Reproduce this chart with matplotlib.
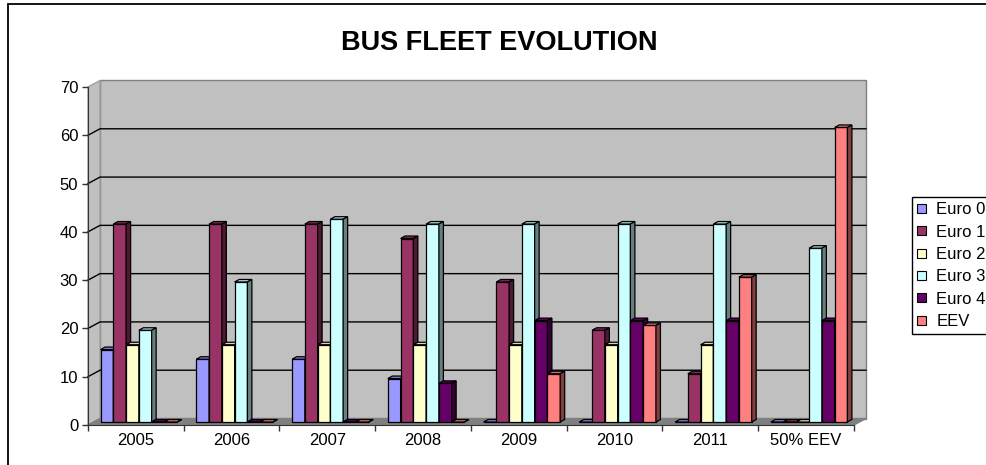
import matplotlib
matplotlib.use("Agg")
import matplotlib.pyplot as plt
from matplotlib.patches import Polygon, Rectangle, Patch

plt.rcParams["font.family"] = ["Liberation Sans", "DejaVu Sans"]

categories = ["2005", "2006", "2007", "2008", "2009", "2010", "2011", "50% EEV"]
series_names = ["Euro 0", "Euro 1", "Euro 2", "Euro 3", "Euro 4", "EEV"]
euro0 = [15, 13, 13, 9, 0, 0, 0, 0]
euro1 = [41, 41, 41, 38, 29, 19, 10, 0]
euro2 = [16, 16, 16, 16, 16, 16, 16, 0]
euro3 = [19, 29, 42, 41, 41, 41, 41, 36]
euro4 = [0, 0, 0, 8, 21, 21, 21, 21]
eev = [0, 0, 0, 0, 10, 20, 30, 61]
series = [euro0, euro1, euro2, euro3, euro4, eev]
colors = ["#9999FF", "#993366", "#FFFFCC", "#CCFFFF", "#660066", "#FF8080"]

W, H = 987, 465
fig = plt.figure(figsize=(W / 100, H / 100), dpi=100)
L, R, B, T = 88, 854, 425, 87
ax = fig.add_axes([L / W, (H - B) / H, (R - L) / W, (B - T) / H])
ncat = len(categories)
ymax = 70
ax.set_xlim(0, ncat)
ax.set_ylim(0, ymax)
ax.set_facecolor("none")
xpp = ncat / (R - L)   # data units per pixel
ypp = ymax / (B - T)

def shade(c, f):
    c = matplotlib.colors.to_rgb(c)
    return tuple(v * f for v in c)

# walls: back wall offset in px
wdx, wdy = 12 * xpp, 6.5 * ypp
back = Rectangle((wdx, wdy), ncat, ymax, facecolor="#C0C0C0", edgecolor="#808080",
                 lw=1, zorder=0.2, clip_on=False)
ax.add_patch(back)
left = Polygon([(0, 0), (wdx, wdy), (wdx, ymax + wdy), (0, ymax)], closed=True,
               facecolor="#C0C0C0", edgecolor="#A0A0A0", lw=1, zorder=0.3, clip_on=False)
ax.add_patch(left)
floor = Polygon([(0, 0), (ncat, 0), (ncat + wdx, wdy), (wdx, wdy)], closed=True,
                facecolor="#808080", edgecolor="#808080", lw=1, zorder=0.4, clip_on=False)
ax.add_patch(floor)
for yv in range(10, ymax, 10):
    ax.plot([0, wdx, ncat + wdx], [yv, yv + wdy, yv + wdy], color="black", lw=1,
            zorder=0.5, clip_on=False)

# bars
w = 0.8 / len(series)
gap = 0.1
fx, fy = 3 * xpp, 3 * ypp
bdx, bdy = 4.5 * xpp, 2.5 * ypp
z = 2
for i in range(ncat):
    for j, (vals, col) in enumerate(zip(series, colors)):
        v = vals[i]
        x0 = i + gap + j * w + fx
        ax.bar(x0, v, width=w, bottom=fy, align="edge", color=col, edgecolor="black",
               lw=0.9, zorder=z, clip_on=False)
        top = Polygon([(x0, v + fy), (x0 + w, v + fy), (x0 + w + bdx, v + fy + bdy),
                       (x0 + bdx, v + fy + bdy)], closed=True, facecolor=shade(col, 0.85),
                      edgecolor="black", lw=0.9, zorder=z, clip_on=False)
        side = Polygon([(x0 + w, fy), (x0 + w + bdx, fy + bdy), (x0 + w + bdx, v + fy + bdy),
                        (x0 + w, v + fy)], closed=True, facecolor=shade(col, 0.5),
                       edgecolor="black", lw=0.9, zorder=z, clip_on=False)
        ax.add_patch(top)
        ax.add_patch(side)
        z += 0.01

# axes styling
for s in ["top", "right"]:
    ax.spines[s].set_visible(False)
ax.spines["left"].set_color("#333333")
ax.spines["bottom"].set_color("#333333")
ax.spines["left"].set_zorder(1)
ax.set_yticks(range(0, ymax + 1, 10))
ax.set_xticks(range(0, ncat + 1))
ax.set_xticklabels([])
ax.set_xticks([k + 0.5 for k in range(ncat)], minor=True)
ax.set_xticklabels(categories, minor=True)
ax.tick_params(axis="x", which="major", length=4, width=1, color="#333333")
ax.tick_params(axis="x", which="minor", length=0, pad=6, labelsize=12)
ax.tick_params(axis="y", length=4, width=1, color="#333333", pad=3, labelsize=12)

# title
fig.text(499 / W, 1 - 50 / H, "BUS FLEET EVOLUTION", ha="center", va="baseline",
         fontsize=19.5, fontweight="bold")

# legend
handles = [Patch(facecolor=c, edgecolor="black", lw=0.8) for c in colors]
fig.legend(handles, series_names, loc="upper left", bbox_to_anchor=(912 / W, 1 - 197 / H),
           borderaxespad=0, fancybox=False, framealpha=1, edgecolor="black",
           fontsize=12, handlelength=0.55, handleheight=0.45, handletextpad=0.6,
           labelspacing=0.44, borderpad=0.32)

# outer frame
fig.add_artist(Rectangle((8 / W, -0.1), 1.2, 1.1 - 4 / H, transform=fig.transFigure,
                         fill=False, edgecolor="black", lw=1.3))

fig.savefig("out.png", dpi=100)
